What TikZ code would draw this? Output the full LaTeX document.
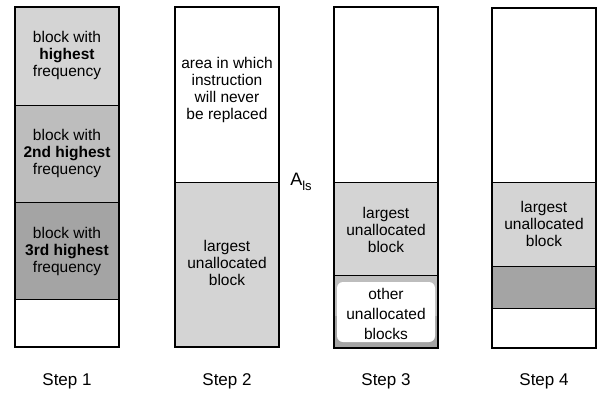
\documentclass[tikz,border=0pt]{standalone}
\usepackage{fontspec}
\setmainfont{Liberation Sans}
\definecolor{shlight}{HTML}{D4D4D4}
\definecolor{shmid}{HTML}{BDBDBD}
\definecolor{shdark}{HTML}{A4A4A4}
\begin{document}
\begin{tikzpicture}[x=1pt,y=-1pt,
  frame/.style={draw=black,line width=1.8pt},
  divline/.style={draw=black,line width=1pt},
  lbl/.style={align=center,inner sep=0pt,font=\fontsize{15.5}{17}\selectfont},
  steplbl/.style={inner sep=0pt,font=\fontsize{17}{19}\selectfont}]
\useasboundingbox (0,0) rectangle (598,392);
% ---- Step 1
\fill[shlight] (15,7) rectangle (119,105);
\fill[shmid] (15,105) rectangle (119,202);
\fill[shdark] (15,202) rectangle (119,299);
\draw[divline] (15,105) -- (119,105);
\draw[divline] (15,202) -- (119,202);
\draw[divline] (15,299) -- (119,299);
\draw[frame] (15,7) rectangle (119,347);
\node[lbl] (b1) at (67,55) {block with\\\textbf{highest}\\frequency};
\node[lbl] (b2) at (67,153) {block with\\\textbf{2nd highest}\\frequency};
\node[lbl] (b3) at (67,251) {block with\\\textbf{3rd highest}\\frequency};
\node[steplbl] (s1) at (67,381) {Step 1};
% ---- Step 2
\fill[shlight] (175,182) rectangle (279,347);
\draw[divline] (175,182) -- (279,182);
\draw[frame] (175,7) rectangle (279,347);
\node[lbl] (a2) at (227,90) {area in which\\instruction\\will never\\be replaced};
\node[lbl] (l2) at (227,263) {largest\\unallocated\\block};
\node[steplbl] (s2) at (227,381) {Step 2};
% ---- A_ls
\node[inner sep=0pt,font=\fontsize{18}{20}\selectfont] (als) at (301,182)
  {A\raisebox{-0.45ex}{\fontsize{13}{13}\selectfont ls}};
% ---- Step 3
\fill[shlight] (334,182) rectangle (438,275);
\fill[shmid] (334,275) rectangle (438,348);
\fill[shdark] (334,316) rectangle (438,348);
\fill[white,rounded corners=6pt] (337,282) rectangle (435,342);
\draw[divline] (334,182) -- (438,182);
\draw[divline] (334,275) -- (438,275);
\draw[frame] (334,7) rectangle (438,348);
\node[lbl] (l3) at (386,230) {largest\\unallocated\\block};
\node[lbl,font=\fontsize{15.5}{20}\selectfont] (o3) at (386,314) {other\\unallocated\\blocks};
\node[steplbl] (s3) at (386,381) {Step 3};
% ---- Step 4
\fill[shlight] (492,182) rectangle (596,266);
\fill[shdark] (492,266) rectangle (596,308);
\draw[divline] (492,182) -- (596,182);
\draw[divline] (492,266) -- (596,266);
\draw[divline] (492,308) -- (596,308);
\draw[frame] (492,8) rectangle (596,348);
\node[lbl] (l4) at (544,224) {largest\\unallocated\\block};
\node[steplbl] (s4) at (544,381) {Step 4};
\end{tikzpicture}
\end{document}
